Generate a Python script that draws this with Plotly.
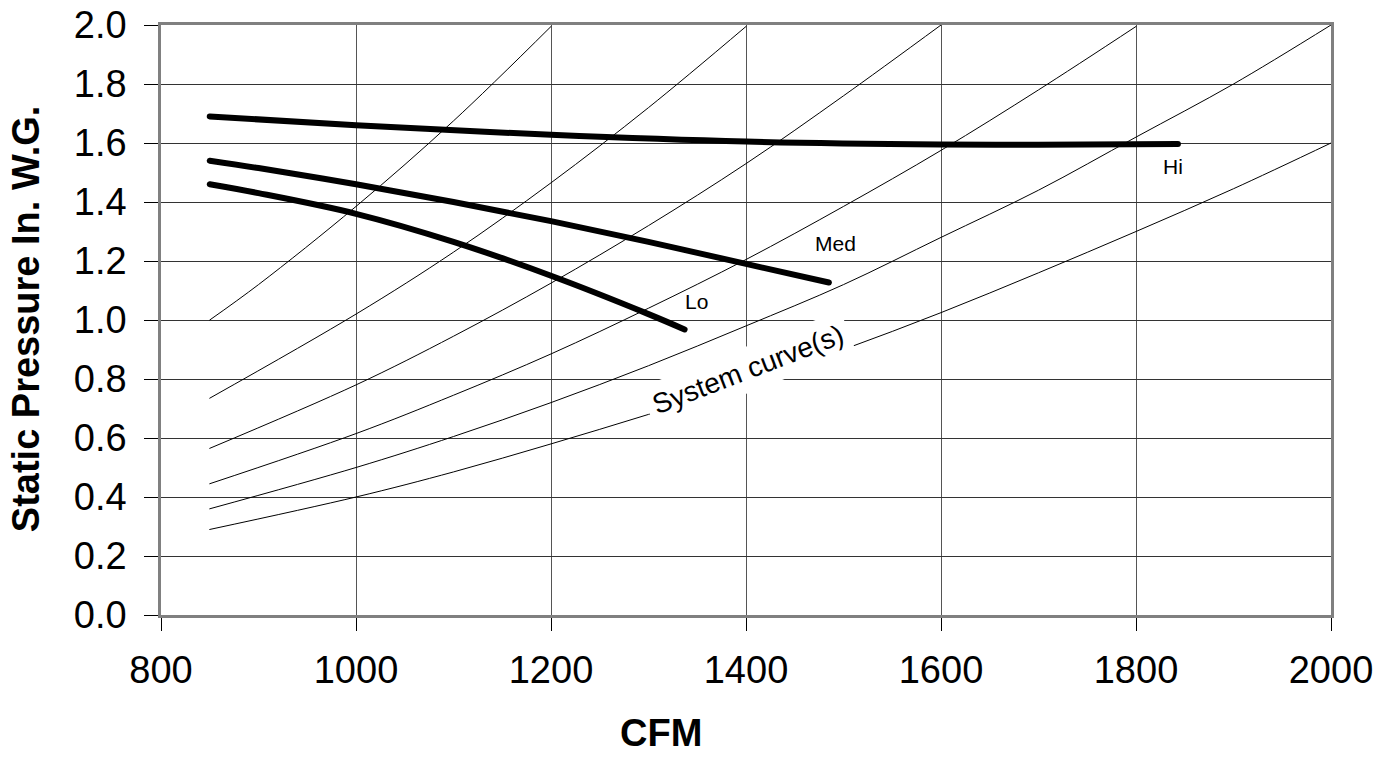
import plotly.graph_objects as go

# ---------------- data ----------------
hi_cfm = [850, 1000, 1200, 1400, 1600, 1700, 1843]
hi_sp = [1.69, 1.66, 1.628, 1.605, 1.595, 1.594, 1.597]

med_cfm = [850, 900, 1000, 1100, 1200, 1300, 1400, 1485]
med_sp = [1.54, 1.515, 1.46, 1.40, 1.335, 1.265, 1.19, 1.127]

lo_cfm = [850, 900, 1000, 1100, 1200, 1300, 1337]
lo_sp = [1.46, 1.43, 1.36, 1.265, 1.15, 1.02, 0.968]

sys1_cfm = [850, 900, 1000, 1100, 1200]
sys1_sp = [1.00, 1.12, 1.385, 1.675, 1.995]
sys2_cfm = [850, 1000, 1100, 1200, 1300, 1400]
sys2_sp = [0.735, 1.02, 1.23, 1.465, 1.72, 1.995]
sys3_cfm = [850, 1000, 1100, 1200, 1300, 1400, 1500, 1600]
sys3_sp = [0.565, 0.78, 0.945, 1.125, 1.32, 1.53, 1.76, 2.0]
sys4_cfm = [850, 1000, 1100, 1200, 1300, 1400, 1500, 1600, 1700, 1800]
sys4_sp = [0.445, 0.615, 0.745, 0.885, 1.04, 1.205, 1.385, 1.575, 1.78, 1.995]
sys5_cfm = [850, 1000, 1100, 1200, 1300, 1400, 1500, 1600, 1700, 1800, 1900, 2000]
sys5_sp = [0.36, 0.50, 0.605, 0.72, 0.845, 0.98, 1.12, 1.28, 1.44, 1.62, 1.80, 2.0]
sys6_cfm = [850, 1000, 1100, 1200, 1300, 1400, 1500, 1600, 1700, 1800, 1900, 2000]
sys6_sp = [0.29, 0.40, 0.485, 0.58, 0.68, 0.785, 0.90, 1.025, 1.16, 1.30, 1.445, 1.60]

x_ticks = [800, 1000, 1200, 1400, 1600, 1800, 2000]
y_ticks = [0.0, 0.2, 0.4, 0.6, 0.8, 1.0, 1.2, 1.4, 1.6, 1.8, 2.0]

FONT = "Liberation Sans, Arial, sans-serif"

fig = go.Figure()

for xs, ys in [(sys1_cfm, sys1_sp), (sys2_cfm, sys2_sp), (sys3_cfm, sys3_sp),
               (sys4_cfm, sys4_sp), (sys5_cfm, sys5_sp), (sys6_cfm, sys6_sp)]:
    fig.add_trace(go.Scatter(x=xs, y=ys, mode="lines",
                             line=dict(color="black", width=1, shape="spline"),
                             hoverinfo="skip", showlegend=False))

for xs, ys, nm in [(hi_cfm, hi_sp, "Hi"), (med_cfm, med_sp, "Med"), (lo_cfm, lo_sp, "Lo")]:
    fig.add_trace(go.Scatter(x=xs, y=ys, mode="lines", name=nm,
                             line=dict(color="black", width=6, shape="spline"),
                             showlegend=False))

fig.update_layout(
    width=1397, height=762,
    margin=dict(l=161, r=66, t=25, b=147, autoexpand=False),
    paper_bgcolor="white", plot_bgcolor="white",
    font=dict(family=FONT, color="black", size=38),
    showlegend=False,
)

fig.update_xaxes(
    range=[800, 2000], tickvals=x_ticks, ticktext=[str(v) for v in x_ticks],
    showgrid=True, gridcolor="#555555", gridwidth=1,
    showline=True, linecolor="#808080", linewidth=2.5, mirror=True,
    ticks="outside", ticklen=13, tickcolor="black", tickwidth=1,
    tickfont=dict(size=38, family=FONT), ticklabelstandoff=7,
    zeroline=False, automargin=False,
)
fig.update_yaxes(
    range=[0, 2.0], tickvals=y_ticks, ticktext=[f"{v:.1f}" for v in y_ticks],
    showgrid=True, gridcolor="#333333", gridwidth=1,
    showline=True, linecolor="#808080", linewidth=2.5, mirror=True,
    ticks="outside", ticklen=14, tickcolor="black", tickwidth=1,
    tickfont=dict(size=38, family=FONT), ticklabelstandoff=10,
    zeroline=False, automargin=False,
)

annotations = [
    dict(text="<b>CFM</b>", x=0.427, y=-0.20, xref="paper", yref="paper",
         showarrow=False, xanchor="center", yanchor="middle",
         font=dict(size=38, family=FONT)),
    dict(text="<b>Static Pressure In. W.G.</b>", x=-0.1154, y=0.503, xref="paper", yref="paper",
         showarrow=False, xanchor="center", yanchor="middle", textangle=-90,
         font=dict(size=38, family=FONT)),
    dict(text="Hi", x=1838, y=1.519, showarrow=False, font=dict(size=21, family=FONT)),
    dict(text="Med", x=1492, y=1.261, showarrow=False, font=dict(size=21, family=FONT)),
    dict(text="Lo", x=1349, y=1.064, showarrow=False, font=dict(size=21, family=FONT)),
    dict(text="System curve(s)", x=1402, y=0.831, showarrow=False, textangle=-21,
         bgcolor="white", borderpad=6, font=dict(size=28, family=FONT)),
]
fig.update_layout(annotations=annotations)

fig.write_html(
    "out.html",
    config={"displayModeBar": False},
    post_script="document.body.style.margin='0';document.body.style.padding='0';"
                "document.body.style.overflow='hidden';"
                "document.querySelectorAll('.scatterlayer path.js-line').forEach("
                "function(p){p.style.strokeLinecap='round';});",
)
